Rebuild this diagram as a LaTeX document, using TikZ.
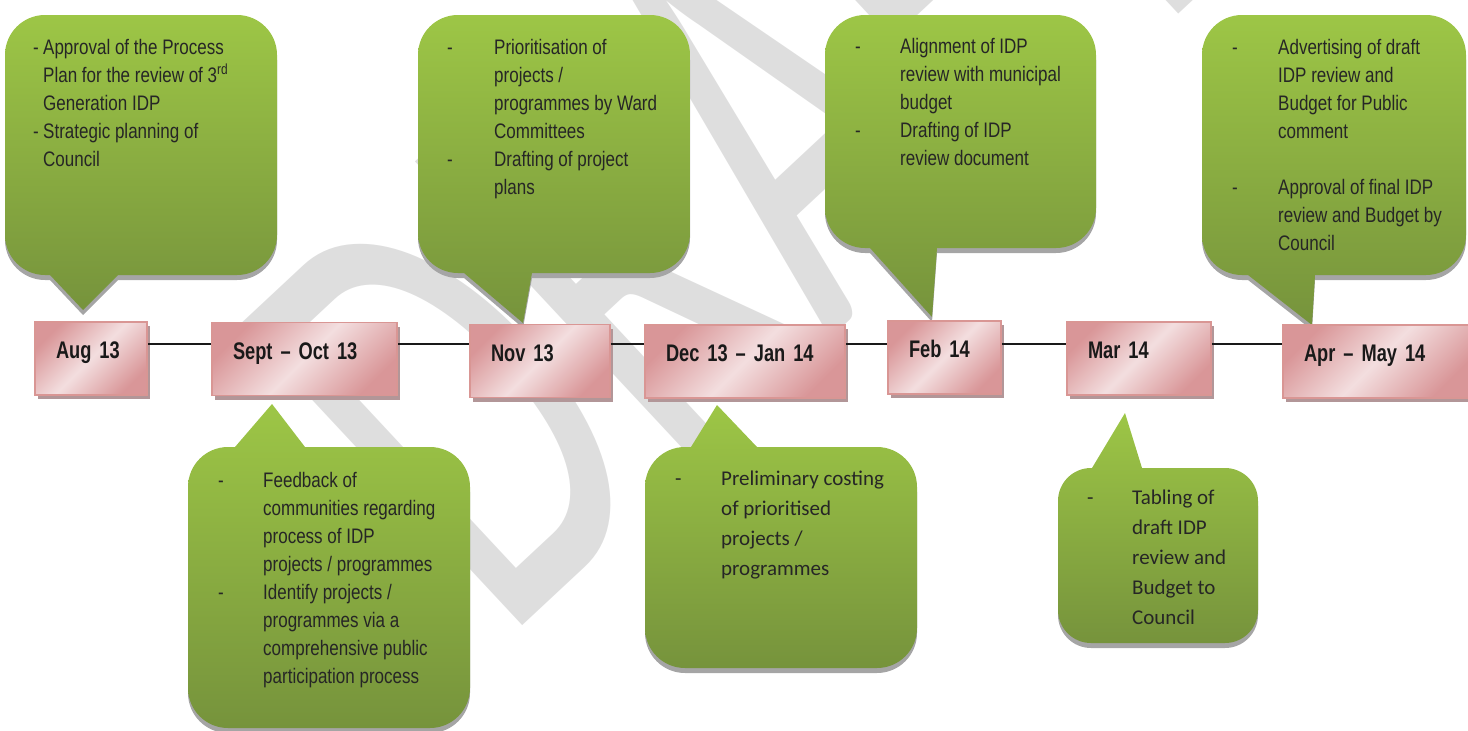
\documentclass[tikz,border=0pt]{standalone}
\usepackage{fontspec}
\setmainfont{Liberation Sans}
\newfontfamily\narrowfont{Liberation Sans}[FakeStretch=0.81]
\newfontfamily\datefont{Liberation Sans}[FakeStretch=0.76]
\newfontfamily\calfont{Carlito}
\newfontfamily\wmfont{Carlito}[FakeStretch=0.6]
\usetikzlibrary{positioning,shadows}

\definecolor{greentop}{RGB}{157,198,70}
\definecolor{greenbot}{RGB}{118,147,60}
\definecolor{noteshadow}{RGB}{165,165,165}
\definecolor{pinkdark}{RGB}{217,150,152}
\definecolor{pinklight}{RGB}{243,222,223}
\definecolor{pinkline}{RGB}{217,150,148}
\definecolor{pinkshadow}{RGB}{178,150,152}
\definecolor{wmgray}{RGB}{222,222,222}
\definecolor{inkgray}{RGB}{38,38,38}

\tikzset{
  wmark/.style={inner sep=0pt, text=wmgray, font=\wmfont\fontsize{643}{643}\selectfont},
  note/.style={top color=greentop, bottom color=greenbot,
    drop shadow={shadow xshift=0pt, shadow yshift=-5pt, fill=noteshadow, opacity=1}},
  notetext/.style={inner sep=0pt, text=inkgray, font=\narrowfont\fontsize{21}{28}\selectfont},
  caltext/.style={inner sep=0pt, text=inkgray, font=\calfont\fontsize{21}{30}\selectfont},
  datebox/.style={rectangle, draw=pinkline, line width=1.5pt,
    top color=pinkdark, bottom color=pinkdark, middle color=pinklight, shading angle=45,
    minimum height=73pt, inner xsep=21pt, inner ysep=0pt, text height=10pt, text depth=10pt,
    align=left, text=black!90, font=\datefont\bfseries\fontsize{24}{28}\selectfont,
    drop shadow={shadow xshift=3pt, shadow yshift=-4pt, fill=pinkshadow, opacity=1}},
  timeline/.style={draw=black!90, line width=1.2pt}
}

\begin{document}
\begin{tikzpicture}[x=1pt, y=-1pt]
  \useasboundingbox (0,0) rectangle (1468,731);
  \clip (0,0) rectangle (1468,731);

  % watermark
  \node [wmark, rotate=43, anchor=base west] (draft) at (503,644) {DRAFT};

  % callouts above the line
  \path [note] (50,275) [rounded corners=40pt] -- (5,275) -- (5,15) -- (277,15) -- (277,275) [sharp corners] -- (118,275) -- (83,310) -- cycle;
  \path [note] (464,273) [rounded corners=40pt] -- (418,273) -- (418,15) -- (690,15) -- (690,273) [sharp corners] -- (532,273) -- (523,323) -- cycle;
  \path [note] (870,248) [rounded corners=40pt] -- (825,248) -- (825,15) -- (1096,15) -- (1096,248) [sharp corners] -- (937,248) -- (932,317) -- cycle;
  \path [note] (1248,275) [rounded corners=40pt] -- (1202,275) -- (1202,15) -- (1466,15) -- (1466,275) [sharp corners] -- (1315,275) -- (1312,325) -- cycle;

  % callouts below the line
  \path [note] (305,447) [rounded corners=40pt] -- (470,447) -- (470,728) -- (188,728) -- (188,447) [sharp corners] -- (235,447) -- (272,404) -- cycle;
  \path [note] (757,447) [rounded corners=40pt] -- (917,447) -- (917,668) -- (645,668) -- (645,447) [sharp corners] -- (691,447) -- (717,405) -- cycle;
  \path [note] (1142,468) [rounded corners=33pt] -- (1258,468) -- (1258,643) -- (1058,643) -- (1058,468) [sharp corners] -- (1092,468) -- (1125,413) -- cycle;

  % texts
  \node [notetext, anchor=base west] (augtext) at (33,54) {\begin{tabular}[t]{@{}p{10pt}@{}l@{}}
    - & Approval of the Process\\
      & Plan for the review of 3\textsuperscript{rd}\\
      & Generation IDP\\
    - & Strategic planning of\\
      & Council
  \end{tabular}};
  \node [notetext, anchor=base west] (novtext) at (447,54) {\begin{tabular}[t]{@{}p{47pt}@{}l@{}}
    - & Prioritisation of\\
      & projects /\\
      & programmes by Ward\\
      & Committees\\
    - & Drafting of project\\
      & plans
  \end{tabular}};
  \node [notetext, anchor=base west] (febtext) at (855,53) {\begin{tabular}[t]{@{}p{45pt}@{}l@{}}
    - & Alignment of IDP\\
      & review with municipal\\
      & budget\\
    - & Drafting of IDP\\
      & review document
  \end{tabular}};
  \node [notetext, anchor=base west] (aprtext) at (1232,54) {\begin{tabular}[t]{@{}p{46pt}@{}l@{}}
    - & Advertising of draft\\
      & IDP review and\\
      & Budget for Public\\
      & comment\\
      & \\
    - & Approval of final IDP\\
      & review and Budget by\\
      & Council
  \end{tabular}};
  \node [notetext, anchor=base west] (septtext) at (218,487) {\begin{tabular}[t]{@{}p{45pt}@{}l@{}}
    - & Feedback of\\
      & communities regarding\\
      & process of IDP\\
      & projects / programmes\\
    - & Identify projects /\\
      & programmes via a\\
      & comprehensive public\\
      & participation process
  \end{tabular}};
  \node [caltext, anchor=base west] (dectext) at (675,485) {\begin{tabular}[t]{@{}p{46pt}@{}l@{}}
    - & Preliminary costing\\
      & of prioritised\\
      & projects /\\
      & programmes
  \end{tabular}};
  \node [caltext, anchor=base west] (martext) at (1087,504) {\begin{tabular}[t]{@{}p{45pt}@{}l@{}}
    - & Tabling of\\
      & draft IDP\\
      & review and\\
      & Budget to\\
      & Council
  \end{tabular}};

  % date boxes
  \node [datebox, text width=70pt] (aug) at (91,358.5) {Aug 13};
  \node [datebox, text width=143pt] (sept) at (304.5,359) {Sept \textendash{} Oct 13};
  \node [datebox, text width=98pt] (nov) at (540,361) {Nov 13};
  \node [datebox, text width=158pt] (dec) at (745,361.5) {Dec 13 \textendash{} Jan 14};
  \node [datebox, text width=71pt] (feb) at (944.5,357.5) {Feb 14};
  \node [datebox, text width=102pt] (mar) at (1139,358.5) {Mar 14};
  \node [datebox, text width=145pt] (apr) at (1376.5,361.5) {Apr \textendash{} May 14};

  % time line
  \coordinate (tl) at (0,344);
  \foreach \a/\b in {aug/sept, sept/nov, nov/dec, dec/feb, feb/mar, mar/apr}
    \draw [timeline] (\a.east |- tl) -- (\b.west |- tl);
\end{tikzpicture}
\end{document}
